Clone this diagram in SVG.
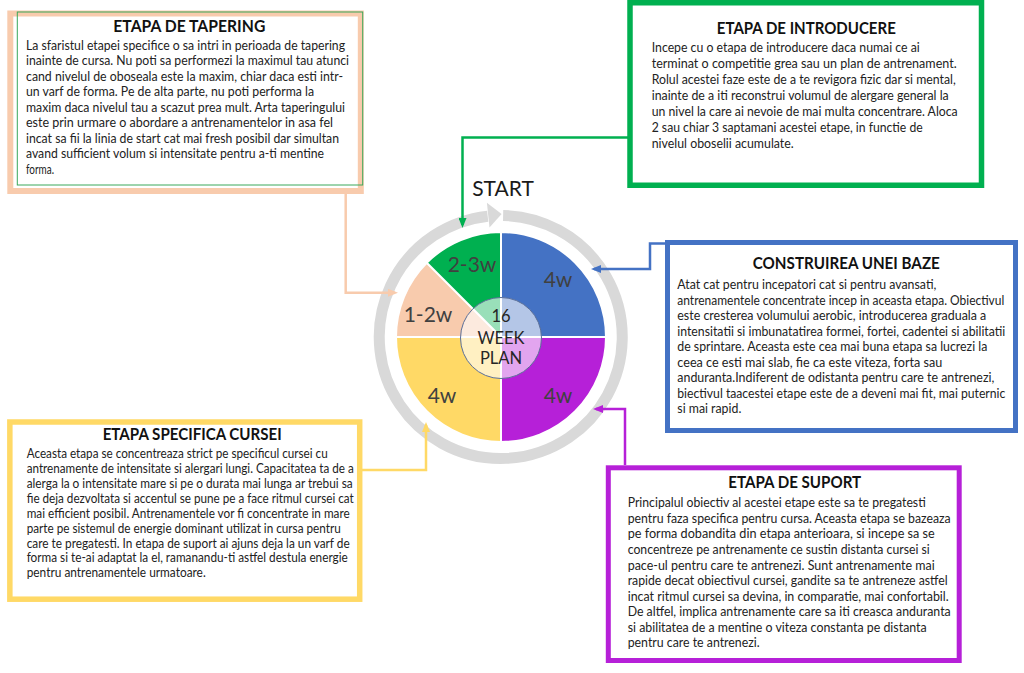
<svg xmlns="http://www.w3.org/2000/svg" width="1024" height="673" viewBox="0 0 1024 673">
<style>
  .title{font-family:Lato,"Liberation Sans",sans-serif;font-weight:700;font-size:17px;fill:#111;text-anchor:middle}
  .body{font-family:Lato,"Liberation Sans",sans-serif;font-size:12.8px;fill:#222}
  .seg{stroke:#fff;stroke-width:2}
  .lbl{font-family:Lato,"Liberation Sans",sans-serif;font-size:21px;fill:#404040;text-anchor:middle}
  .ctr{font-family:Lato,"Liberation Sans",sans-serif;font-size:16.5px;fill:#262626;text-anchor:middle}
  .box{fill:#fff}
  .conn{fill:none;stroke-width:2.5}
</style>
<defs>
  <marker id="aG" viewBox="0 0 10 8" refX="7" refY="4" markerWidth="10" markerHeight="8" markerUnits="userSpaceOnUse" orient="auto"><path d="M0,0 L10,4 L0,8 z" fill="#00b050"/></marker>
  <marker id="aP" viewBox="0 0 10 8" refX="7" refY="4" markerWidth="10" markerHeight="8" markerUnits="userSpaceOnUse" orient="auto"><path d="M0,0 L10,4 L0,8 z" fill="#f8cbad"/></marker>
  <marker id="aB" viewBox="0 0 10 8" refX="7" refY="4" markerWidth="10" markerHeight="8" markerUnits="userSpaceOnUse" orient="auto"><path d="M0,0 L10,4 L0,8 z" fill="#4472c4"/></marker>
  <marker id="aU" viewBox="0 0 10 8" refX="7" refY="4" markerWidth="10" markerHeight="8" markerUnits="userSpaceOnUse" orient="auto"><path d="M0,0 L10,4 L0,8 z" fill="#b620d8"/></marker>
  <marker id="aY" viewBox="0 0 10 8" refX="7" refY="4" markerWidth="10" markerHeight="8" markerUnits="userSpaceOnUse" orient="auto"><path d="M0,0 L10,4 L0,8 z" fill="#ffd966"/></marker>
</defs>
<rect width="1024" height="673" fill="#fff"/>

<g id="node-wheel">
  <path d="M503.12,215.52 A121.5,121.5 0 1 1 487.7,216.2" fill="none" stroke="#d9d9d9" stroke-width="11"/>
  <polygon points="486.9,202.7 501.6,214 489.5,227.6" fill="#d9d9d9"/>
  <g id="seg-baza"><path class="seg" d="M501,337 L501,232 A105,105 0 0 1 606,337 Z" fill="#4472c4"/><text class="lbl" x="558" y="287">4w</text></g>
  <g id="seg-suport"><path class="seg" d="M501,337 L606,337 A105,105 0 0 1 501,442 Z" fill="#b620d8"/><text class="lbl" x="558" y="403">4w</text></g>
  <g id="seg-specifica"><path class="seg" d="M501,337 L501,442 A105,105 0 0 1 396,337 Z" fill="#ffd966"/><text class="lbl" x="442" y="403">4w</text></g>
  <g id="seg-tapering"><path class="seg" d="M501,337 L396,337 A105,105 0 0 1 426.75,262.75 Z" fill="#f8cbad"/><text class="lbl" x="428" y="322">1-2w</text></g>
  <g id="seg-introducere"><path class="seg" d="M501,337 L426.75,262.75 A105,105 0 0 1 501,232 Z" fill="#00b050"/><text class="lbl" x="472" y="272">2-3w</text></g>
  <circle cx="501" cy="338" r="40.5" fill="#fff" fill-opacity="0.6" stroke="#5b6f98" stroke-width="1"/>
  <text class="ctr" x="501" y="322">16</text>
  <text class="ctr" x="501" y="344">WEEK</text>
  <text class="ctr" x="501" y="364">PLAN</text>
  <text x="503" y="196" font-family="Lato,'Liberation Sans',sans-serif" font-size="21" fill="#1a1a1a" text-anchor="middle">START</text>
</g>

<g id="connectors">
  <path class="conn" stroke="#00b050" d="M630,137.5 H462.5 V225" marker-end="url(#aG)"/>
  <path class="conn" stroke="#f8cbad" d="M345.7,194 V292.7 H395" marker-end="url(#aP)"/>
  <path class="conn" stroke="#4472c4" d="M667,243.5 H650 V269 H594" marker-end="url(#aB)"/>
  <path class="conn" stroke="#b620d8" d="M625,465 V409 H596" marker-end="url(#aU)"/>
  <path class="conn" stroke="#ffd966" d="M362,470 H426 V425" marker-end="url(#aY)"/>
</g>

<g id="node-tapering">
  <rect class="box" x="10.3" y="13.5" width="350.5" height="177.5" stroke="#f8cbad" stroke-width="6"/>
  <rect x="17.3" y="12" width="345.4" height="173" fill="none" stroke="#3aa85a" stroke-width="1"/>
  <text class="title" x="189.3" y="32" textLength="152" lengthAdjust="spacingAndGlyphs">ETAPA  DE TAPERING</text>
  <text class="body" x="26" y="49.7" textLength="319" lengthAdjust="spacingAndGlyphs">La sfaristul etapei specifice  o sa intri in perioada de tapering</text>
  <text class="body" x="26" y="65.2" textLength="323" lengthAdjust="spacingAndGlyphs">inainte de cursa. Nu poti sa performezi la maximul tau atunci</text>
  <text class="body" x="26" y="80.7" textLength="317" lengthAdjust="spacingAndGlyphs">cand nivelul  de oboseala este la maxim, chiar daca esti intr-</text>
  <text class="body" x="26" y="96.2" textLength="288" lengthAdjust="spacingAndGlyphs">un varf de forma. Pe de alta parte, nu poti performa la</text>
  <text class="body" x="26" y="111.7" textLength="319" lengthAdjust="spacingAndGlyphs">maxim daca nivelul  tau a scazut prea mult. Arta taperingului</text>
  <text class="body" x="26" y="127.2" textLength="307" lengthAdjust="spacingAndGlyphs">este prin urmare o abordare a antrenamentelor  in asa fel</text>
  <text class="body" x="26" y="142.7" textLength="313" lengthAdjust="spacingAndGlyphs">incat sa fii la linia de start cat mai fresh  posibil  dar simultan</text>
  <text class="body" x="26" y="158.2" textLength="298" lengthAdjust="spacingAndGlyphs">avand sufficient  volum  si intensitate pentru a-ti mentine</text>
  <text class="body" x="26" y="173.7" textLength="28" lengthAdjust="spacingAndGlyphs">forma.</text>
</g>

<g id="node-introducere">
  <rect class="box" x="630" y="2.75" width="351.5" height="182.5" stroke="#00b050" stroke-width="5.5"/>
  <text class="title" x="806.3" y="34" textLength="179" lengthAdjust="spacingAndGlyphs">ETAPA DE INTRODUCERE</text>
  <text class="body" x="651.7" y="51.7" font-size="13" textLength="268" lengthAdjust="spacingAndGlyphs">Incepe cu o etapa de introducere daca numai ce ai</text>
  <text class="body" x="651.7" y="67.7" font-size="13" textLength="305" lengthAdjust="spacingAndGlyphs">terminat o competitie grea sau un plan de antrenament.</text>
  <text class="body" x="651.7" y="83.7" font-size="13" textLength="304" lengthAdjust="spacingAndGlyphs">Rolul acestei faze este de a te revigora fizic dar si mental,</text>
  <text class="body" x="651.7" y="99.7" font-size="13" textLength="297" lengthAdjust="spacingAndGlyphs">inainte de a iti reconstrui volumul de alergare general la</text>
  <text class="body" x="651.7" y="115.7" font-size="13" textLength="306" lengthAdjust="spacingAndGlyphs">un nivel la care ai nevoie de mai multa concentrare. Aloca</text>
  <text class="body" x="651.7" y="131.7" font-size="13" textLength="271" lengthAdjust="spacingAndGlyphs">2 sau chiar 3 saptamani acestei etape, in functie de</text>
  <text class="body" x="651.7" y="147.7" font-size="13" textLength="142" lengthAdjust="spacingAndGlyphs">nivelul oboselii acumulate.</text>
</g>

<g id="node-construirea">
  <rect class="box" x="667.5" y="242.5" width="348" height="188" stroke="#4472c4" stroke-width="5"/>
  <text class="title" x="846.3" y="269.3" textLength="187" lengthAdjust="spacingAndGlyphs">CONSTRUIREA UNEI BAZE</text>
  <text class="body" x="677.3" y="289.3" textLength="259" lengthAdjust="spacingAndGlyphs">Atat cat pentru incepatori cat si pentru avansati,</text>
  <text class="body" x="677.3" y="304.8" font-size="12.2" textLength="327" lengthAdjust="spacingAndGlyphs">antrenamentele concentrate incep in aceasta etapa. Obiectivul</text>
  <text class="body" x="677.3" y="320.3" textLength="309" lengthAdjust="spacingAndGlyphs">este cresterea volumului  aerobic, introducerea graduala a</text>
  <text class="body" x="677.3" y="335.8" textLength="328" lengthAdjust="spacingAndGlyphs">intensitatii si imbunatatirea formei,  fortei, cadentei si abilitatii</text>
  <text class="body" x="677.3" y="351.3" textLength="310" lengthAdjust="spacingAndGlyphs">de sprintare. Aceasta este cea mai buna etapa sa lucrezi la</text>
  <text class="body" x="677.3" y="366.8" textLength="265" lengthAdjust="spacingAndGlyphs">ceea ce esti mai slab, fie ca este viteza, forta sau</text>
  <text class="body" x="677.3" y="382.3" textLength="317" lengthAdjust="spacingAndGlyphs">anduranta.Indiferent de odistanta pentru care te antrenezi,</text>
  <text class="body" x="677.3" y="397.8" textLength="328" lengthAdjust="spacingAndGlyphs">biectivul taacestei etape este de a deveni  mai fit, mai puternic</text>
  <text class="body" x="677.3" y="413.3" textLength="64" lengthAdjust="spacingAndGlyphs">si mai rapid.</text>
</g>

<g id="node-suport">
  <rect class="box" x="608.3" y="467.8" width="350.9" height="192.7" stroke="#b620d8" stroke-width="5"/>
  <text class="title" x="794.7" y="488.3" textLength="133" lengthAdjust="spacingAndGlyphs">ETAPA DE SUPORT</text>
  <text class="body" x="627.7" y="507.3" textLength="298" lengthAdjust="spacingAndGlyphs">Principalul obiectiv  al acestei etape este sa te pregatesti</text>
  <text class="body" x="627.7" y="522.9" textLength="323" lengthAdjust="spacingAndGlyphs">pentru faza specifica pentru cursa. Aceasta etapa se bazeaza</text>
  <text class="body" x="627.7" y="538.4" textLength="307" lengthAdjust="spacingAndGlyphs">pe forma dobandita din etapa anterioara, si incepe sa se</text>
  <text class="body" x="627.7" y="554.0" textLength="302" lengthAdjust="spacingAndGlyphs">concentreze pe antrenamente ce sustin distanta cursei si</text>
  <text class="body" x="627.7" y="569.5" textLength="307" lengthAdjust="spacingAndGlyphs">pace-ul pentru care te antrenezi. Sunt antrenamente mai</text>
  <text class="body" x="627.7" y="585.1" textLength="320" lengthAdjust="spacingAndGlyphs">rapide decat obiectivul  cursei, gandite sa te antreneze astfel</text>
  <text class="body" x="627.7" y="600.6" textLength="321" lengthAdjust="spacingAndGlyphs">incat ritmul cursei sa devina, in comparatie,  mai confortabil.</text>
  <text class="body" x="627.7" y="616.2" textLength="323" lengthAdjust="spacingAndGlyphs">De altfel, implica antrenamente care sa iti creasca anduranta</text>
  <text class="body" x="627.7" y="631.7" textLength="299" lengthAdjust="spacingAndGlyphs">si abilitatea de a mentine  o viteza constanta pe distanta</text>
  <text class="body" x="627.7" y="647.3" textLength="132" lengthAdjust="spacingAndGlyphs">pentru care te antrenezi.</text>
</g>

<g id="node-specifica">
  <rect class="box" x="9.85" y="422" width="349.85" height="177.2" stroke="#ffd966" stroke-width="5.5"/>
  <text class="title" x="192.2" y="440" textLength="179" lengthAdjust="spacingAndGlyphs">ETAPA SPECIFICA CURSEI</text>
  <text class="body" x="26.7" y="458.3" font-size="12" textLength="301" lengthAdjust="spacingAndGlyphs">Aceasta etapa se concentreaza strict pe specificul cursei cu</text>
  <text class="body" x="26.7" y="473.2" font-size="12" textLength="327" lengthAdjust="spacingAndGlyphs">antrenamente  de  intensitate si alergari lungi. Capacitatea ta de a</text>
  <text class="body" x="26.7" y="488.0" font-size="12" textLength="326" lengthAdjust="spacingAndGlyphs">alerga la o intensitate mare si pe o durata mai lunga ar trebui sa</text>
  <text class="body" x="26.7" y="502.9" font-size="12" textLength="327" lengthAdjust="spacingAndGlyphs">fie deja dezvoltata si accentul se pune  pe  a face ritmul cursei cat</text>
  <text class="body" x="26.7" y="517.8" font-size="12" textLength="323" lengthAdjust="spacingAndGlyphs">mai efficient posibil. Antrenamentele  vor fi concentrate in mare</text>
  <text class="body" x="26.7" y="532.7" font-size="12" textLength="314" lengthAdjust="spacingAndGlyphs">parte pe  sistemul de energie  dominant utilizat in cursa pentru</text>
  <text class="body" x="26.7" y="547.6" font-size="12" textLength="323" lengthAdjust="spacingAndGlyphs">care te  pregatesti.  In etapa   de suport ai ajuns deja la un varf de</text>
  <text class="body" x="26.7" y="562.4" font-size="12" textLength="321" lengthAdjust="spacingAndGlyphs">forma si te-ai adaptat la el, ramanandu-ti astfel destula energie</text>
  <text class="body" x="26.7" y="577.3" font-size="12" textLength="179" lengthAdjust="spacingAndGlyphs">pentru  antrenamentele  urmatoare.</text>
</g>
</svg>
